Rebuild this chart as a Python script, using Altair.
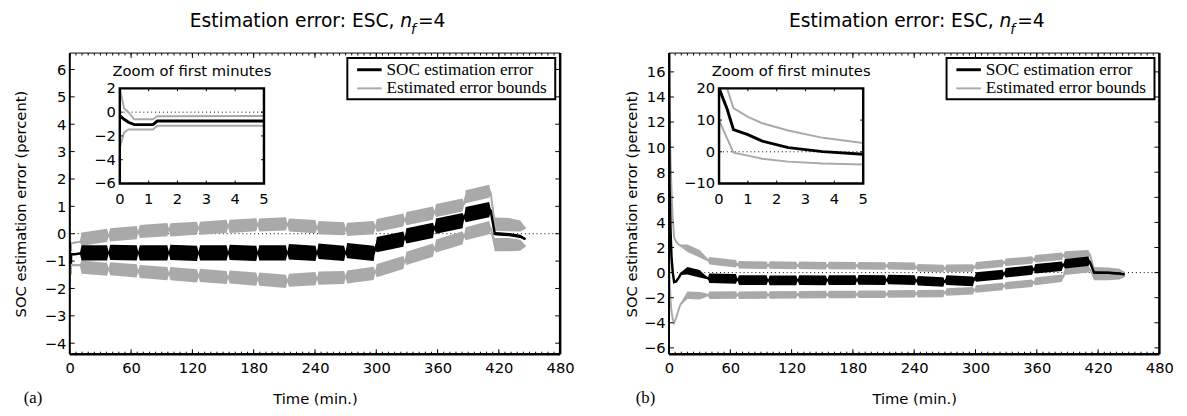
import altair as alt
import pandas as pd

FONT = "DejaVu Sans"
SERIF = "Liberation Serif"
GRAY = "#a9a9a9"
W, H = 500, 307

# ---------------- shared tick lists ----------------
X_TICKS = [0, 60, 120, 180, 240, 300, 360, 420, 480]
X_MINOR = [0, 6, 12, 18, 24, 30, 36, 42, 48, 54, 60, 66, 72, 78, 84, 90, 96, 102, 108, 114,
           120, 126, 132, 138, 144, 150, 156, 162, 168, 174, 180, 186, 192, 198, 204, 210,
           216, 222, 228, 234, 240, 246, 252, 258, 264, 270, 276, 282, 288, 294, 300, 306,
           312, 318, 324, 330, 336, 342, 348, 354, 360, 366, 372, 378, 384, 390, 396, 402,
           408, 414, 420, 426, 432, 438, 444, 450, 456, 462, 468, 474, 480]
INSET_X_TICKS = [0, 1, 2, 3, 4, 5]

# ---------------- panel (a) ----------------
A_Y_DOMAIN = [-4.4, 6.6]
A_Y_TICKS = [-4, -3, -2, -1, 0, 1, 2, 3, 4, 5, 6]
A_INSET_Y_DOMAIN = [-6, 2]
A_INSET_Y_TICKS = [-6, -4, -2, 0, 2]

TA = [0, 0.15, 0.3, 0.5, 1.15, 1.3, 5, 10,
      11.5, 36.5, 38, 39.5, 65.5, 67, 68.5, 95.5, 97, 98.5, 124.5, 126,
      127.5, 153.5, 155, 156.5, 182.5, 184, 185.5, 211.5, 213, 214.5, 240.5, 242,
      243.5, 268.5, 270, 271.5, 297.5, 299, 300.5, 326.5, 328, 329.5, 355.5, 357,
      358.5, 384.5, 386, 387.5, 410.5, 412, 416, 430, 441, 446]
A_ERR = [-0.3, -0.6, -0.85, -1.05, -1.05, -0.75, -0.75, -0.72,
         -0.70, -0.70, -0.70, -0.68, -0.70, -0.70, -0.70, -0.70, -0.70, -0.68, -0.72, -0.70,
         -0.70, -0.70, -0.70, -0.68, -0.72, -0.70, -0.70, -0.70, -0.70, -0.66, -0.72, -0.70,
         -0.64, -0.72, -0.70, -0.62, -0.72, -0.55, -0.40, -0.20, -0.15, -0.08, 0.12, 0.20,
         0.28, 0.48, 0.60, 0.70, 0.88, 0.85, 0.00, -0.03, -0.10, -0.20]
A_ERR_HALF = [0.03, 0.03, 0.03, 0.03, 0.03, 0.03, 0.03, 0.03,
              0.28, 0.28, 0.04, 0.28, 0.28, 0.04, 0.28, 0.28, 0.04, 0.28, 0.28, 0.04,
              0.28, 0.28, 0.04, 0.28, 0.28, 0.04, 0.28, 0.28, 0.04, 0.28, 0.28, 0.04,
              0.28, 0.28, 0.04, 0.28, 0.28, 0.04, 0.28, 0.28, 0.04, 0.28, 0.28, 0.04,
              0.28, 0.28, 0.04, 0.28, 0.28, 0.06, 0.06, 0.06, 0.06, 0.03]
A_UP = [2.2, 0.3, 0.0, -0.6, -0.6, -0.35, -0.32, -0.30,
        -0.20, -0.06, -0.06, -0.04, 0.04, 0.06, 0.08, 0.15, 0.15, 0.14, 0.20, 0.20,
        0.20, 0.27, 0.27, 0.27, 0.33, 0.32, 0.32, 0.36, 0.33, 0.32, 0.26, 0.22,
        0.22, 0.18, 0.16, 0.16, 0.22, 0.25, 0.30, 0.50, 0.50, 0.55, 0.75, 0.78,
        0.85, 1.05, 1.10, 1.35, 1.55, 1.50, 0.35, 0.33, 0.28, 0.20]
A_LO = [-3.0, -1.7, -1.45, -1.45, -1.45, -1.15, -1.15, -1.15,
        -1.22, -1.30, -1.30, -1.28, -1.36, -1.37, -1.38, -1.46, -1.46, -1.46, -1.54, -1.54,
        -1.52, -1.60, -1.60, -1.58, -1.66, -1.66, -1.66, -1.74, -1.72, -1.70, -1.64, -1.64,
        -1.62, -1.60, -1.58, -1.58, -1.45, -1.40, -1.35, -1.05, -1.00, -0.90, -0.60, -0.55,
        -0.45, -0.15, -0.10, 0.00, 0.22, 0.20, -0.40, -0.40, -0.42, -0.45]
A_BND_HALF = [0.03, 0.03, 0.03, 0.03, 0.03, 0.03, 0.03, 0.03,
              0.24, 0.24, 0.04, 0.24, 0.24, 0.04, 0.24, 0.24, 0.04, 0.24, 0.24, 0.04,
              0.24, 0.24, 0.04, 0.24, 0.24, 0.04, 0.24, 0.24, 0.04, 0.24, 0.24, 0.04,
              0.24, 0.24, 0.04, 0.24, 0.24, 0.04, 0.24, 0.24, 0.04, 0.24, 0.24, 0.04,
              0.24, 0.24, 0.04, 0.24, 0.24, 0.06, 0.24, 0.24, 0.20, 0.03]

# ---------------- panel (b) ----------------
B_Y_DOMAIN = [-6.5, 17.5]
B_Y_TICKS = [-6, -4, -2, 0, 2, 4, 6, 8, 10, 12, 14, 16]
B_INSET_Y_DOMAIN = [-10, 20]
B_INSET_Y_TICKS = [-10, 0, 10, 20]

TB = [0, 0.28, 0.5, 1, 1.5, 2.4, 3.6, 5, 7, 10,
      11.5, 18, 30, 36.5, 38, 39.5, 65.5, 67, 68.5, 95.5, 97, 98.5, 124.5, 126,
      127.5, 153.5, 155, 156.5, 182.5, 184, 185.5, 211.5, 213, 214.5, 240.5, 242,
      243.5, 268.5, 270, 271.5, 297.5, 299, 300.5, 326.5, 328, 329.5, 355.5, 357,
      358.5, 384.5, 386, 387.5, 410.5, 412, 416, 430, 441, 446]
B_ERR = [20, 13.5, 7.0, 5.4, 3.35, 1.3, 0.06, -0.76, -0.70, -0.35,
         -0.10, 0.15, -0.10, -0.40, -0.45, -0.45, -0.50, -0.55, -0.60, -0.60, -0.62, -0.62, -0.62, -0.60,
         -0.60, -0.62, -0.60, -0.60, -0.60, -0.60, -0.58, -0.60, -0.60, -0.55, -0.60, -0.65,
         -0.65, -0.75, -0.70, -0.60, -0.70, -0.50, -0.35, -0.15, -0.10, -0.02, 0.20, 0.25,
         0.30, 0.50, 0.60, 0.70, 0.90, 0.85, 0.00, -0.02, -0.08, -0.15]
B_ERR_HALF = [0.05, 0.05, 0.05, 0.05, 0.05, 0.05, 0.05, 0.05, 0.05, 0.05,
              0.10, 0.30, 0.30, 0.10, 0.05, 0.38, 0.38, 0.05, 0.38, 0.38, 0.05, 0.38, 0.38, 0.05,
              0.38, 0.38, 0.05, 0.38, 0.38, 0.05, 0.38, 0.38, 0.05, 0.38, 0.38, 0.05,
              0.38, 0.38, 0.05, 0.38, 0.38, 0.05, 0.38, 0.38, 0.05, 0.38, 0.38, 0.05,
              0.38, 0.38, 0.05, 0.38, 0.38, 0.08, 0.10, 0.10, 0.10, 0.05]
B_UP = [40, 20, 13.8, 11.0, 9.0, 6.7, 4.4, 2.8, 2.45, 2.2,
        2.15, 1.95, 1.5, 1.1, 1.0, 0.95, 0.70, 0.65, 0.62, 0.58, 0.58, 0.60, 0.56, 0.56,
        0.58, 0.55, 0.55, 0.56, 0.54, 0.54, 0.55, 0.53, 0.53, 0.55, 0.50, 0.42,
        0.38, 0.32, 0.33, 0.35, 0.36, 0.45, 0.55, 0.75, 0.80, 0.82, 1.00, 1.05,
        1.10, 1.30, 1.35, 1.40, 1.50, 1.45, 0.20, 0.15, 0.10, 0.00]
B_LO = [10, 4.2, -0.3, -1.2, -2.2, -3.1, -3.7, -4.0, -3.6, -2.8,
        -2.5, -1.8, -1.85, -1.8, -1.8, -1.8, -1.78, -1.78, -1.80, -1.78, -1.78, -1.78, -1.76, -1.76,
        -1.76, -1.75, -1.75, -1.75, -1.74, -1.74, -1.72, -1.72, -1.72, -1.70, -1.68, -1.68,
        -1.68, -1.66, -1.60, -1.55, -1.45, -1.40, -1.30, -1.10, -1.05, -1.05, -0.85, -0.80,
        -0.70, -0.45, -0.35, 0.10, 0.30, 0.25, -0.35, -0.35, -0.35, -0.30]
B_BND_HALF = [0.05, 0.05, 0.05, 0.05, 0.05, 0.05, 0.05, 0.05, 0.05, 0.05,
              0.10, 0.30, 0.30, 0.15, 0.05, 0.30, 0.30, 0.05, 0.30, 0.30, 0.05, 0.30, 0.30, 0.05,
              0.30, 0.30, 0.05, 0.30, 0.30, 0.05, 0.30, 0.30, 0.05, 0.30, 0.30, 0.05,
              0.30, 0.30, 0.05, 0.30, 0.30, 0.05, 0.30, 0.30, 0.05, 0.30, 0.30, 0.05,
              0.30, 0.30, 0.05, 0.30, 0.30, 0.08, 0.25, 0.25, 0.20, 0.05]

LEGEND_LABELS = ["SOC estimation error", "Estimated error bounds"]
TITLE_PREFIX = "Estimation error: ESC,"
INSET_TITLE = "Zoom of first minutes"


def series(t, mid, half):
    assert len(t) == len(mid) == len(half)
    return pd.DataFrame({"t": t, "mid": mid,
                         "lo": [m - h for m, h in zip(mid, half)],
                         "hi": [m + h for m, h in zip(mid, half)]})


ONE = pd.DataFrame({"k": [0]})


def txt(text, x, y, size=15, font=FONT, align="center", baseline="middle", style="normal"):
    return alt.Chart(ONE).mark_text(text=text, font=font, fontSize=size, align=align,
                                    baseline=baseline, fontStyle=style, color="black").encode(
        x=alt.value(x), y=alt.value(y))


def vrule(x, y1, y2, w, color="black"):
    return alt.Chart(ONE).mark_rule(color=color, strokeWidth=w).encode(
        x=alt.value(x), y=alt.value(y1), y2=alt.value(y2))


def hrule(y, x1, x2, w, color="black"):
    return alt.Chart(ONE).mark_rule(color=color, strokeWidth=w).encode(
        y=alt.value(y), x=alt.value(x1), x2=alt.value(x2))


def panel(t, err, err_half, up, lo, bnd_half, ydom, yticks, ytitle_pad,
          inset_ydom, inset_yticks, tag, tag_x):
    xs = alt.Scale(domain=[0, 480], nice=False, zero=False)
    ys = alt.Scale(domain=ydom, nice=False, zero=False)
    xax = alt.Axis(values=X_TICKS, ticks=False, domain=False, grid=False,
                   labelFont=FONT, labelFontSize=15, labelColor="black", labelPadding=7,
                   labelFlush=False, labelOverlap=False,
                   title="Time (min.)", titleFont=FONT, titleFontSize=15,
                   titleFontWeight="normal", titleColor="black", titlePadding=16)
    yax = alt.Axis(values=yticks, ticks=False, domain=False, grid=False,
                   labelFont=FONT, labelFontSize=15, labelColor="black", labelPadding=4,
                   labelFlush=False, labelOverlap=False,
                   title="SOC estimation error (percent)", titleFont=FONT, titleFontSize=15,
                   titleFontWeight="normal", titleColor="black", titlePadding=ytitle_pad)

    def X(f):
        return alt.X(f, type="quantitative", scale=xs, axis=xax)

    def Y(f):
        return alt.Y(f, type="quantitative", scale=ys, axis=yax)

    d_err = series(t, err, err_half)
    d_up = series(t, up, bnd_half)
    d_lo = series(t, lo, bnd_half)

    layers = []
    layers.append(alt.Chart(pd.DataFrame({"z": [0]})).mark_rule(
        color="black", strokeWidth=1, strokeDash=[1, 3]).encode(
        y=Y("z"), x=alt.value(0), x2=alt.value(W)))
    for d, col, lw in [(d_up, GRAY, 2), (d_lo, GRAY, 2), (d_err, "black", 2.5)]:
        layers.append(alt.Chart(d).mark_area(color=col, clip=True).encode(
            x=X("t"), y=Y("lo"), y2="hi"))
        layers.append(alt.Chart(d).mark_line(color=col, strokeWidth=lw, clip=True).encode(
            x=X("t"), y=Y("mid")))

    # inward ticks
    dx = pd.DataFrame({"t": X_TICKS})
    dxm = pd.DataFrame({"t": X_MINOR})
    dy = pd.DataFrame({"mid": yticks})
    layers += [
        alt.Chart(dx).mark_rule(color="black", strokeWidth=1).encode(x=X("t"), y=alt.value(H), y2=alt.value(H - 5)),
        alt.Chart(dx).mark_rule(color="black", strokeWidth=1).encode(x=X("t"), y=alt.value(0), y2=alt.value(5)),
        alt.Chart(dxm).mark_rule(color="black", strokeWidth=1).encode(x=X("t"), y=alt.value(H), y2=alt.value(H - 2.5)),
        alt.Chart(dxm).mark_rule(color="black", strokeWidth=1).encode(x=X("t"), y=alt.value(0), y2=alt.value(2.5)),
        alt.Chart(dy).mark_rule(color="black", strokeWidth=1).encode(y=Y("mid"), x=alt.value(0), x2=alt.value(5)),
        alt.Chart(dy).mark_rule(color="black", strokeWidth=1).encode(y=Y("mid"), x=alt.value(W - 5), x2=alt.value(W)),
    ]
    # frame
    layers += [vrule(0, 0, H, 2), vrule(W, 0, H, 2.5), hrule(H, 0, W, 2.5), hrule(0, 0, W, 1)]

    # legend
    layers += [
        alt.Chart(ONE).mark_rect(color="white", stroke="black", strokeWidth=2).encode(
            x=alt.value(283), x2=alt.value(495), y=alt.value(5), y2=alt.value(47)),
        hrule(17, 293, 318, 3, "black"),
        hrule(36, 293, 318, 2, GRAY),
        txt(LEGEND_LABELS[0], 323, 17, size=17.5, font=SERIF, align="left"),
        txt(LEGEND_LABELS[1], 323, 36, size=17.5, font=SERIF, align="left"),
    ]

    # title with italic n and subscript f
    P = 337
    layers += [
        txt(TITLE_PREFIX, P - 6, -27, size=19, align="right", baseline="alphabetic"),
        txt("n", P, -27, size=19, align="left", baseline="alphabetic", style="italic"),
        txt("f", P + 11, -19, size=14, align="left", baseline="alphabetic", style="italic"),
        txt("=4", P + 18, -27, size=19, align="left", baseline="alphabetic"),
        txt(tag, tag_x, 357, size=17, font=SERIF, baseline="alphabetic"),
    ]
    main = alt.layer(*layers)

    # ---------------- inset ----------------
    x0, x1, iy0, iy1 = 51, 198, 36, 133
    xi = alt.Scale(domain=[0, 5], range=[x0, x1], nice=False, zero=False)
    yi = alt.Scale(domain=inset_ydom, range=[iy1, iy0], nice=False, zero=False, clamp=True)

    def XI(f):
        return alt.X(f, type="quantitative", scale=xi, axis=None)

    def YI(f):
        return alt.Y(f, type="quantitative", scale=yi, axis=None)

    e5 = d_err[d_err.t <= 5]
    u5 = d_up[d_up.t <= 5]
    l5 = d_lo[d_lo.t <= 5]
    dix = pd.DataFrame({"t": INSET_X_TICKS})
    diy = pd.DataFrame({"mid": inset_yticks})
    ins = [
        alt.Chart(ONE).mark_rect(color="white").encode(
            x=alt.value(x0), x2=alt.value(x1), y=alt.value(iy0), y2=alt.value(iy1)),
        alt.Chart(pd.DataFrame({"mid": [0]})).mark_rule(
            color="black", strokeWidth=1, strokeDash=[1, 3]).encode(
            y=YI("mid"), x=alt.value(x0), x2=alt.value(x1)),
        alt.Chart(u5).mark_line(color=GRAY, strokeWidth=2).encode(x=XI("t"), y=YI("mid")),
        alt.Chart(l5).mark_line(color=GRAY, strokeWidth=2).encode(x=XI("t"), y=YI("mid")),
        alt.Chart(e5).mark_line(color="black", strokeWidth=3).encode(x=XI("t"), y=YI("mid")),
        alt.Chart(dix).mark_rule(color="black", strokeWidth=1).encode(x=XI("t"), y=alt.value(iy1), y2=alt.value(iy1 - 3)),
        alt.Chart(dix).mark_rule(color="black", strokeWidth=1).encode(x=XI("t"), y=alt.value(iy0), y2=alt.value(iy0 + 3)),
        alt.Chart(diy).mark_rule(color="black", strokeWidth=1).encode(y=YI("mid"), x=alt.value(x0), x2=alt.value(x0 + 3)),
        alt.Chart(diy).mark_rule(color="black", strokeWidth=1).encode(y=YI("mid"), x=alt.value(x1 - 3), x2=alt.value(x1)),
        alt.Chart(ONE).mark_rect(fillOpacity=0, stroke="black", strokeWidth=2.5).encode(
            x=alt.value(x0), x2=alt.value(x1), y=alt.value(iy0), y2=alt.value(iy1)),
        alt.Chart(dix).mark_text(font=FONT, fontSize=15, color="black", baseline="middle").encode(
            x=XI("t"), y=alt.value(iy1 + 16), text=alt.Text("t:Q", format="d")),
        alt.Chart(diy).mark_text(font=FONT, fontSize=15, color="black", align="right",
                                 baseline="middle").encode(
            y=YI("mid"), x=alt.value(x0 - 4), text=alt.Text("mid:Q", format="d")),
        txt(INSET_TITLE, (x0 + x1) / 2, 18),
    ]
    inset = alt.layer(*ins)
    return alt.layer(main, inset).resolve_scale(x="independent", y="independent").properties(
        width=W, height=H)


pa = panel(TA, A_ERR, A_ERR_HALF, A_UP, A_LO, A_BND_HALF, A_Y_DOMAIN, A_Y_TICKS, 16,
           A_INSET_Y_DOMAIN, A_INSET_Y_TICKS, "(a)", -37.5)
pb = panel(TB, B_ERR, B_ERR_HALF, B_UP, B_LO, B_BND_HALF, B_Y_DOMAIN, B_Y_TICKS, 4,
           B_INSET_Y_DOMAIN, B_INSET_Y_TICKS, "(b)", -24)

chart = alt.hconcat(pa, pb, spacing=50).properties(
    padding={"left": 5, "top": 0, "right": 5, "bottom": 0},
    background="white",
).configure_view(stroke=None)

chart.save("out.html", embed_options={"renderer": "svg", "actions": False})
